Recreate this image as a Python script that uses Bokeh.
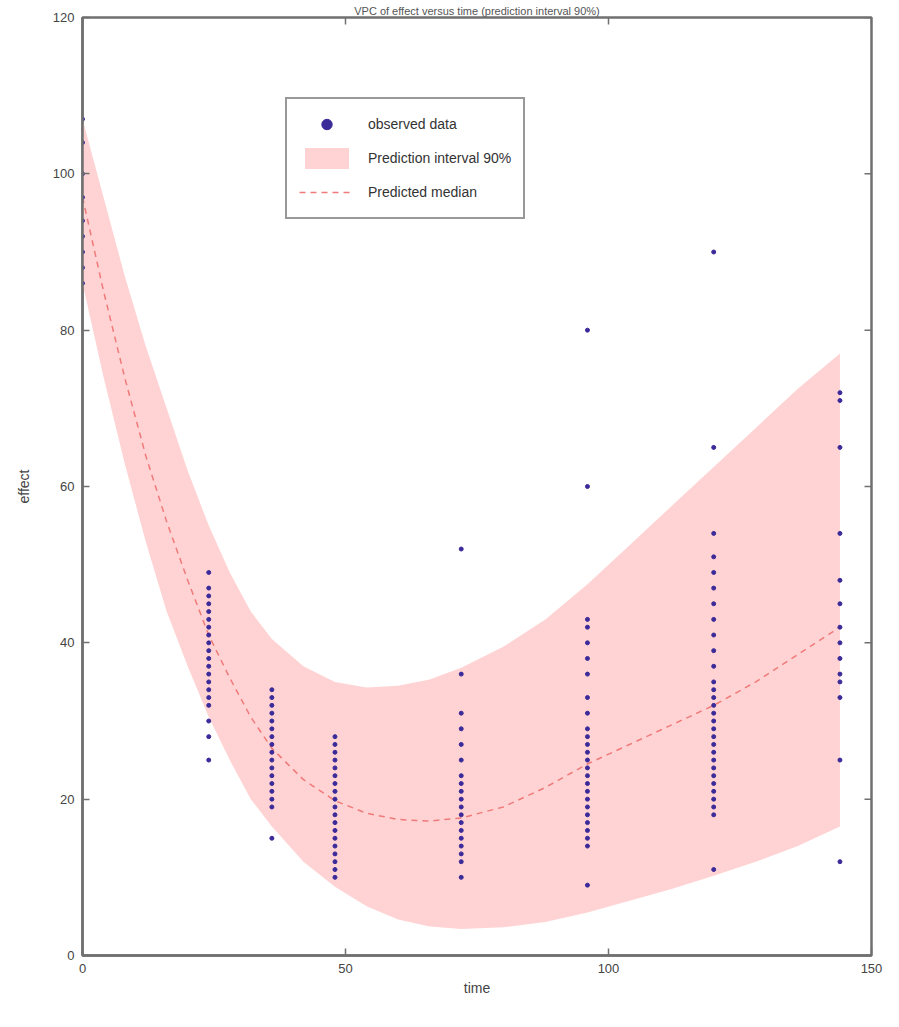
import math
from bokeh.plotting import figure
from bokeh.models import Range1d, FixedTicker, Legend, LegendItem
from bokeh.embed import file_html
from bokeh.resources import INLINE

# ---- data ----
obs_times = [0, 24, 36, 48, 72, 96, 120, 144]
obs_values = {
    0: [107, 104, 100, 97, 94, 92, 90, 88, 86],
    24: [49, 47, 46, 45, 44, 43, 42, 41, 40, 39, 38, 37, 36, 35, 34, 33, 32, 30, 28, 25],
    36: [34, 33, 32, 31, 30, 29, 28, 27, 26, 25, 24, 23, 22, 21, 20, 19, 15],
    48: [28, 27, 26, 25, 24, 23, 22, 21, 20, 19, 18, 17, 16, 15, 14, 13, 12, 11, 10],
    72: [52, 36, 31, 29, 27, 25, 23, 22, 21, 20, 19, 18, 17, 16, 15, 14, 13, 12, 10],
    96: [80, 60, 43, 42, 40, 38, 36, 33, 31, 29, 28, 27, 26, 25, 24, 23, 22, 21, 20, 19, 18, 17, 16, 15, 14, 9],
    120: [90, 65, 54, 51, 49, 47, 45, 43, 41, 39, 37, 35, 34, 33, 32, 31, 30, 29, 28, 27, 26, 25, 24, 23, 22, 21, 20, 19, 18, 11],
    144: [72, 71, 65, 54, 48, 45, 42, 40, 38, 36, 35, 33, 25, 12],
}

band_time = [0, 4, 8, 12, 16, 20, 24, 28, 32, 36, 42, 48, 54, 60, 66, 72, 80, 88, 96, 104, 112, 120, 128, 136, 144]
pi_upper = [107, 97, 87, 78, 70, 62, 55, 49, 44, 40.5, 37, 35, 34.3, 34.5, 35.3, 36.8, 39.5, 43, 47.5, 52.5, 57.5, 62.5, 67.5, 72.5, 77]
pi_lower = [86, 74, 63, 53, 44, 37, 30.5, 25, 20, 16.5, 12, 8.8, 6.3, 4.6, 3.7, 3.4, 3.6, 4.3, 5.5, 7, 8.5, 10.2, 12, 14, 16.5]
median = [97, 85, 74, 64, 55.5, 48, 41, 35.5, 30.5, 26.5, 22.5, 19.8, 18.2, 17.4, 17.2, 17.6, 19, 21.5, 24.5, 27, 29.5, 32, 35, 38.5, 42]

x_ticks = [0, 50, 100, 150]
y_ticks = [0, 20, 40, 60, 80, 100, 120]
x_lim = (0, 150)
y_lim = (0, 120)

obs_x = [t for t in obs_times for _ in obs_values[t]]
obs_y = [v for t in obs_times for v in obs_values[t]]

FONT = "Liberation Sans"
AX = "#707070"

p = figure(width=885, height=1011, output_backend="svg", toolbar_location=None,
           x_range=Range1d(*x_lim), y_range=Range1d(*y_lim),
           min_border_left=82, min_border_right=14, min_border_top=17, min_border_bottom=56,
           title="VPC of effect versus time (prediction interval 90%)")
p.title.align = "center"
p.title.text_font = FONT
p.title.text_font_size = "11px"
p.title.text_font_style = "normal"
p.title.text_color = "#555555"
p.title.standoff = 2

p.grid.visible = False
p.outline_line_color = AX
p.outline_line_width = 2.5
p.background_fill_color = "white"

band = p.varea(x=band_time, y1=pi_lower, y2=pi_upper, fill_color="#ffd3d3", fill_alpha=1.0)
med = p.line(x=band_time, y=median, line_color="#f07a7a", line_width=1.5, line_dash="6 5")
obs = p.scatter(x=obs_x, y=obs_y, marker="circle", size=4, fill_color="#3b2a99",
                line_color="#3b2a99")

# mirrored inward tick marks on top and right (box style)
p.ray(x=x_ticks, y=[y_lim[1]] * len(x_ticks), length=7, length_units="screen",
      angle=-math.pi / 2, line_color=AX, line_width=1.5)
p.ray(x=[x_lim[1]] * len(y_ticks), y=y_ticks, length=7, length_units="screen",
      angle=math.pi, line_color=AX, line_width=1.5)

for ax in (p.xaxis[0], p.yaxis[0]):
    ax.major_tick_in = 7
    ax.major_tick_out = 0
    ax.minor_tick_in = 0
    ax.minor_tick_out = 0
    ax.axis_line_color = AX
    ax.axis_line_width = 2.5
    ax.major_tick_line_color = AX
    ax.major_tick_line_width = 1.5
    ax.major_label_text_font = FONT
    ax.major_label_text_font_size = "13px"
    ax.major_label_text_color = "#444444"
    ax.axis_label_text_font = FONT
    ax.axis_label_text_font_size = "14px"
    ax.axis_label_text_font_style = "normal"
    ax.axis_label_text_color = "#444444"

p.xaxis[0].ticker = FixedTicker(ticks=x_ticks)
p.yaxis[0].ticker = FixedTicker(ticks=y_ticks)
p.xaxis[0].axis_label = "time"
p.yaxis[0].axis_label = "effect"
p.xaxis[0].major_label_standoff = 8
p.yaxis[0].major_label_standoff = 8
p.xaxis[0].axis_label_standoff = 4
p.yaxis[0].axis_label_standoff = 18

legend = Legend(items=[
    LegendItem(label="observed data", renderers=[obs]),
    LegendItem(label="Prediction interval 90%", renderers=[band]),
    LegendItem(label="Predicted median", renderers=[med]),
], location=(203, 736))
legend.label_text_font = FONT
legend.label_text_font_size = "14px"
legend.label_text_color = "#333333"
legend.glyph_width = 55
legend.glyph_height = 26
legend.label_standoff = 14
legend.spacing = 8
legend.padding = 12
legend.margin = 0
legend.border_line_color = "#333333"
legend.border_line_width = 2
legend.background_fill_alpha = 1.0
p.add_layout(legend, "center")

open("out.html", "w").write(file_html(p, INLINE))
